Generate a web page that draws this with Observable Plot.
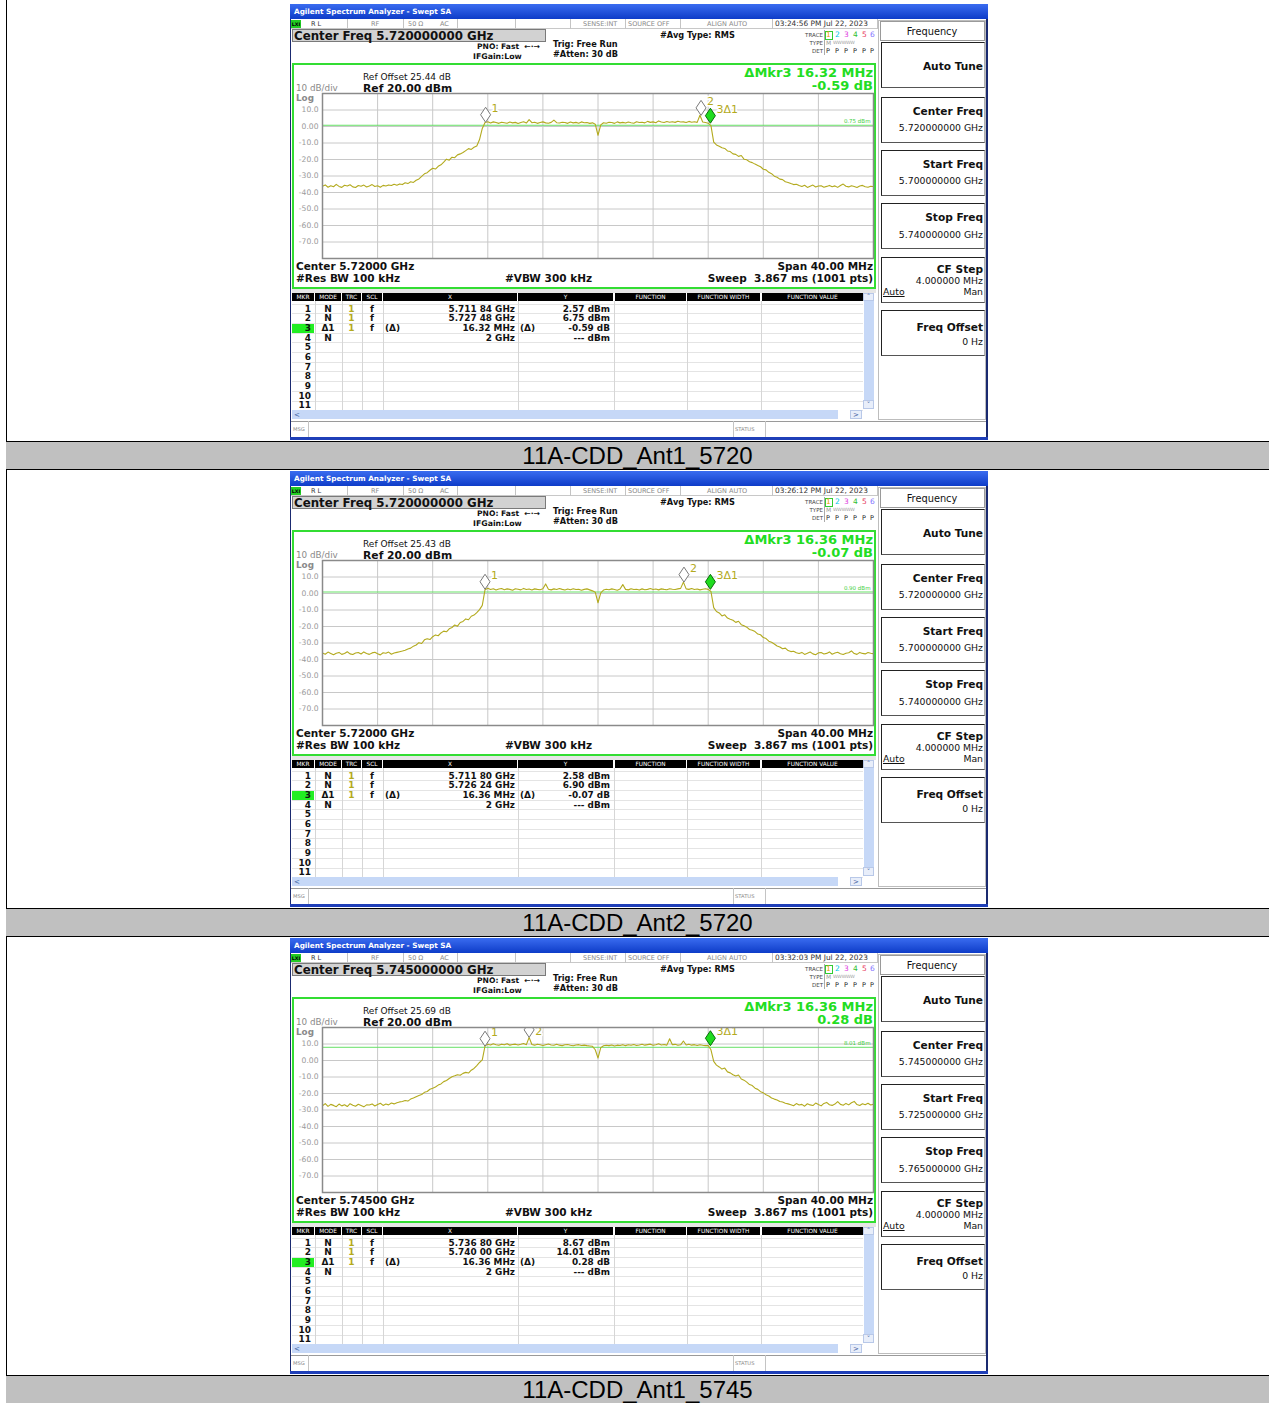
<!DOCTYPE html>
<html><head><meta charset="utf-8">
<script src="https://cdn.jsdelivr.net/npm/d3@7"></script>
<script src="https://cdn.jsdelivr.net/npm/@observablehq/plot@0.6"></script>
<style>
html,body{margin:0;padding:0;background:#fff;}
#page{position:relative;width:1269px;height:1403px;overflow:hidden;background:#fff;}
.sa{position:absolute;left:290px;width:698px;height:436px;background:#fff;overflow:hidden;font-family:"DejaVu Sans",sans-serif;color:#111;}
.t{position:absolute;white-space:pre;}
.bx{position:absolute;box-sizing:border-box;}
.cap{position:absolute;left:6px;width:1263px;height:29px;background:#c0c0c0;border-top:1px solid #000;border-bottom:1px solid #000;box-sizing:border-box;text-align:center;font-family:"Liberation Sans",Arial,sans-serif;font-size:24px;line-height:27px;color:#000;}
</style></head>
<body><div id="page"></div>
<script>
// ---------- data ----------
const captions = ["11A-CDD_Ant1_5720", "11A-CDD_Ant2_5720", "11A-CDD_Ant1_5745"];
const centerGHz = [5.72, 5.72, 5.745];
const centerFreqText = ["5.720000000", "5.720000000", "5.745000000"];
const startFreqText = ["5.700000000", "5.700000000", "5.725000000"];
const stopFreqText = ["5.740000000", "5.740000000", "5.765000000"];
const centerShort = ["5.72000", "5.72000", "5.74500"];
const spanMHz = 40;
const timestamps = ["03:24:56 PM Jul 22, 2023", "03:26:12 PM Jul 22, 2023", "03:32:03 PM Jul 22, 2023"];
const refOffsets = ["25.44", "25.43", "25.69"];
const deltaFreq = ["16.32 MHz", "16.36 MHz", "16.36 MHz"];
const deltaAmp = ["-0.59 dB", "-0.07 dB", "0.28 dB"];
const displayLine = [0.75, 0.90, 8.01];
const yTicks = [10, 0, -10, -20, -30, -40, -50, -60, -70];
const mkrLabels = ["1", "2", "3Δ1"];
const mkrFreq = [[5.71184, 5.72748, 5.72816], [5.71180, 5.72624, 5.72816], [5.73680, 5.74000, 5.75316]];
const mkrAmp = [[2.57, 6.75, 1.98], [2.58, 6.90, 2.51], [8.67, 14.01, 8.95]];
const mkrXText = [["5.711 84 GHz", "5.727 48 GHz", "16.32 MHz", "2 GHz"],
                  ["5.711 80 GHz", "5.726 24 GHz", "16.36 MHz", "2 GHz"],
                  ["5.736 80 GHz", "5.740 00 GHz", "16.36 MHz", "2 GHz"]];
const mkrYText = [["2.57 dBm", "6.75 dBm", "-0.59 dB", "--- dBm"],
                  ["2.58 dBm", "6.90 dBm", "-0.07 dB", "--- dBm"],
                  ["8.67 dBm", "14.01 dBm", "0.28 dB", "--- dBm"]];
const mkrMode = ["N", "N", "Δ1", "N"];
const mkrTrc = ["1", "1", "1", ""];
const mkrScl = ["f", "f", "f", ""];

const trace1 = [-36.2,-35.4,-36.8,-35.9,-36.5,-35.1,-36.3,-36.9,-35.6,-36.1,-35.3,-36.6,-37.0,-35.8,-36.2,-35.5,-36.7,-36.0,-35.2,-36.4,-35.9,-36.8,-35.7,-36.1,-35.4,
-35.8,-35.0,-35.6,-34.8,-35.2,-34.1,-34.6,-33.5,-33.9,-32.6,-31.8,
-30.2,-28.7,-28.0,-26.5,-25.3,-25.8,-24.1,-23.2,-21.6,-19.8,-20.4,-18.6,-18.9,-17.2,-16.6,-15.8,-14.6,-13.4,-13.9,-12.6,-11.8,-7.9,-1.2,2.4,2.9,
2.1,2.8,2.4,1.9,2.6,2.3,2.0,2.7,2.2,2.5,1.8,2.4,2.9,2.1,4.2,2.3,2.6,1.9,2.4,2.8,2.2,2.0,2.5,3.9,2.3,2.1,2.6,2.4,1.9,2.7,2.2,2.5,2.0,2.8,2.3,2.4,1.9,2.2,
1.4,-5.3,1.0,
2.3,2.0,2.6,2.4,1.9,2.8,2.2,2.5,2.1,2.7,2.3,2.0,2.9,2.4,2.6,2.2,3.1,2.5,2.8,2.3,3.4,2.7,2.4,3.0,2.6,2.9,2.5,3.2,2.7,2.8,2.4,3.1,2.6,2.9,2.5,
6.8,
2.7,2.4,2.0,0.5,-9.5,-11.2,-12.0,-12.9,-13.3,-14.8,-15.2,-16.6,-16.9,-18.1,-17.6,-19.8,-20.2,-21.4,-21.9,-22.8,-23.6,-24.4,-25.9,-26.3,-27.8,-28.6,-30.1,-30.8,-31.9,-32.2,-33.5,-33.9,-34.6,-35.2,-35.0,
-35.8,-36.4,-35.6,-36.9,-36.2,-35.5,-36.7,-36.1,-35.9,-36.8,-36.3,-35.7,-36.5,-36.0,-36.9,-35.8,-34.9,-36.2,-36.6,-35.9,-36.4,-37.0,-36.1,-35.7,-36.5,-36.8,-36.2,-36.4];

const trace2 = [-36.0,-36.8,-35.5,-36.3,-37.1,-36.2,-35.7,-36.9,-36.4,-35.3,-36.6,-37.0,-36.1,-35.8,-36.7,-35.4,-36.3,-36.9,-36.0,-35.6,-36.5,-37.2,-35.9,-36.2,-35.5,-36.8,-36.1,-35.7,-35.3,
-34.9,-34.4,-33.6,-33.1,-31.9,-31.2,-29.8,-30.3,-28.1,-27.4,-27.9,-26.2,-25.1,-25.6,-23.9,-22.8,-23.2,-21.4,-20.6,-19.1,-19.8,-17.6,-16.9,-15.4,-15.9,-13.8,-13.1,-11.6,-9.8,-7.2,2.3,
3.2,2.4,2.9,2.1,2.7,3.0,2.3,2.8,2.5,2.0,2.9,2.6,2.2,3.1,2.4,2.7,2.1,2.8,2.5,2.3,2.9,5.8,2.6,2.2,2.8,2.4,3.0,2.5,2.1,2.7,2.3,2.9,2.4,2.6,2.0,2.5,2.8,2.2,1.6,
0.8,-5.6,0.4,
2.1,2.6,2.3,2.8,2.4,2.0,2.7,5.4,2.5,2.2,2.9,2.4,2.6,2.1,2.8,2.3,2.5,3.0,2.4,2.7,2.2,2.8,2.5,2.3,2.9,2.6,2.4,2.8,3.1,
6.9,
2.8,2.5,3.0,2.4,2.7,2.2,2.6,2.9,2.5,
1.2,-8.6,-10.9,-11.8,-13.6,-12.9,-14.9,-15.6,-16.2,-17.5,-16.8,-18.9,-19.6,-20.4,-21.8,-22.3,-23.1,-24.6,-25.0,-26.7,-27.3,-28.9,-29.5,-30.6,-31.8,-32.4,-33.5,-33.1,-34.6,-35.2,-35.0,-35.9,
-36.4,-35.7,-36.9,-36.2,-35.5,-36.6,-37.1,-36.0,-35.8,-36.7,-36.3,-35.4,-36.8,-36.1,-35.6,-36.5,-37.0,-36.2,-35.9,-34.8,-36.4,-36.9,-35.7,-36.3,-36.6,-35.8,-36.2,-36.5];

const trace3 = [-27.4,-26.1,-27.8,-26.6,-27.2,-28.0,-26.4,-27.5,-26.8,-27.9,-26.2,-27.1,-27.7,-26.5,-27.3,-28.1,-26.9,-27.0,-26.3,-27.6,-26.7,-25.9,-27.2,-26.4,-26.9,-25.8,-26.3,-25.6,
-25.1,-24.8,-24.2,-24.6,-23.4,-22.7,-21.9,-21.2,-20.6,-19.3,-18.8,-17.4,-16.8,-16.1,-14.9,-14.2,-12.8,-12.1,-10.9,-9.8,-9.3,-8.6,-8.9,-7.8,-7.2,-7.6,-5.9,-4.8,-3.1,-1.2,0.4,8.9,
9.8,9.4,10.1,9.6,9.2,9.9,9.5,10.2,9.3,9.7,9.9,9.4,9.8,10.3,9.6,
14.0,
9.7,9.3,9.9,9.5,9.1,9.6,10.0,9.4,9.2,9.8,9.3,9.0,9.5,9.7,9.2,8.9,9.4,9.6,9.1,9.3,9.0,8.8,8.6,
6.5,1.5,7.8,
8.9,9.2,9.0,9.4,8.8,9.3,9.1,9.6,9.0,9.5,9.2,9.7,9.1,9.4,9.8,9.3,9.6,9.9,9.2,9.5,10.1,9.4,9.7,9.3,13.2,9.6,9.8,9.2,9.5,11.8,9.4,9.9,9.3,9.6,9.1,9.5,9.2,9.0,
9.1,6.5,-0.5,-2.8,-3.9,-5.2,-4.6,-6.9,-7.5,-8.6,-9.4,-8.8,-11.2,-11.9,-13.1,-14.6,-15.2,-16.8,-17.5,-18.9,-19.6,-20.8,-21.5,-22.7,-23.4,-23.9,-24.8,-25.2,-25.9,-26.3,
-26.8,-27.4,-26.1,-27.0,-26.6,-27.7,-26.2,-26.9,-27.3,-25.8,-26.7,-27.5,-26.0,-25.4,-26.8,-27.2,-26.4,-24.9,-26.6,-27.1,-26.0,-26.9,-25.6,-24.8,-26.7,-27.3,-26.2,-26.8,-25.9,-27.0,-26.5];

const traces = [trace1, trace2, trace3];
const panelTops = [4, 471, 938];
const captionTops = [441, 908, 1375];

// ---------- helpers ----------
const SW = 698;
function T(p, x, cy, s, o = {}) {
  const d = document.createElement("div");
  d.className = "t";
  const fs = o.fs || 9;
  const lh = Math.ceil(fs * (o.lh || 1.3));
  d.style.top = (cy - lh / 2) + "px";
  d.style.height = lh + "px";
  d.style.lineHeight = lh + "px";
  d.style.fontSize = fs + "px";
  if (o.align === "r") d.style.right = (SW - x) + "px";
  else if (o.align === "c") { d.style.left = (x - 70) + "px"; d.style.width = "140px"; d.style.textAlign = "center"; }
  else d.style.left = x + "px";
  if (o.bold) d.style.fontWeight = "bold";
  if (o.color) d.style.color = o.color;
  if (o.css) d.style.cssText += o.css;
  d.textContent = s;
  p.appendChild(d);
  return d;
}
function B(p, x, y, w, h, css) {
  const d = document.createElement("div");
  d.className = "bx";
  d.style.cssText += `left:${x}px;top:${y}px;width:${w}px;height:${h}px;` + (css || "");
  p.appendChild(d);
  return d;
}

const tallDiamond = {draw(ctx) { ctx.moveTo(0, 0); ctx.lineTo(5, -7.5); ctx.lineTo(0, -15); ctx.lineTo(-5, -7.5); ctx.closePath(); }};

function chart(k) {
  const half = spanMHz / 2000;
  const f0 = centerGHz[k] - half, f1 = centerGHz[k] + half;
  const tr = traces[k];
  const pts = tr.map((v, i) => ({f: f0 + i * (f1 - f0) / (tr.length - 1), v}));
  const mk = mkrFreq[k].map((f, i) => ({f, v: mkrAmp[k][i], label: mkrLabels[i], active: i === 2}));
  const xGrid = d3.range(1, 10).map(j => f0 + j * (f1 - f0) / 10);
  const olive = "#b3aa1e";
  return Plot.plot({
    width: 586, height: 178,
    marginLeft: 32, marginRight: 3, marginTop: 10, marginBottom: 3,
    x: {domain: [f0, f1], axis: null},
    y: {domain: [-80, 20], ticks: yTicks, tickFormat: d => d === 0 ? "0.00" : d.toFixed(1), tickSize: 0, tickPadding: 4, label: null},
    style: {background: "transparent", color: "#9a9a9a", fontFamily: "DejaVu Sans, sans-serif", fontSize: "7.6px", overflow: "visible"},
    marks: [
      Plot.frame({fill: "white"}),
      Plot.ruleY(yTicks, {stroke: "#c8c8c8", strokeWidth: 1}),
      Plot.ruleX(xGrid, {stroke: "#c8c8c8", strokeWidth: 1}),
      Plot.ruleY([displayLine[k]], {stroke: "#66e066", strokeWidth: 1}),
      Plot.text([displayLine[k]], {x: () => f1, y: d => d, text: d => d.toFixed(2) + " dBm", textAnchor: "end", dx: -3, dy: -4, fontSize: 5.5, fill: "#3fcf3f"}),
      Plot.line(pts, {x: "f", y: "v", stroke: olive, strokeWidth: 1.1, clip: true}),
      Plot.text(mk, {x: "f", y: d => Math.min(d.v + 8.5, 17.3), text: "label", dx: 6, textAnchor: "start", fill: olive, stroke: "white", strokeWidth: 3, paintOrder: "stroke", fontSize: 11, fontFamily: "DejaVu Sans"}),
      Plot.dot(mk.filter(d => !d.active), {x: "f", y: "v", symbol: tallDiamond, fill: "white", stroke: "#7a7a7a", strokeWidth: 1, clip: true}),
      Plot.dot(mk.filter(d => d.active), {x: "f", y: "v", symbol: tallDiamond, fill: "#1fdc1f", stroke: "#0b6e0b", strokeWidth: 1, clip: true}),
      Plot.frame({stroke: "#8a8a8a", strokeWidth: 1.5})
    ]
  });
}

function panel(k) {
  const page = document.getElementById("page");
  const p = document.createElement("div");
  p.className = "sa";
  p.style.top = panelTops[k] + "px";
  page.appendChild(p);

  // outer edges
  B(p, 0, 0, 1, 436, "background:#1a2a70;");
  B(p, 696, 0, 2, 436, "background:#1a2a70;");
  B(p, 0, 433, 698, 3, "background:#1f3fb8;");
  // title bar
  B(p, 0, 0, 698, 15, "background:linear-gradient(#3a6cf0,#0e3cc8);");
  T(p, 4, 7.5, "Agilent Spectrum Analyzer - Swept SA", {fs: 7.3, bold: true, color: "#fff"});
  // status row
  B(p, 1, 15, 695, 10, "background:#fff;border-bottom:1px solid #c8c8c8;");
  B(p, 1, 16, 10, 8, "background:#22cc22;");
  T(p, 6, 20, "LXI", {fs: 4.8, bold: true, align: "c", css: "color:#000;"});
  [57, 113, 167, 225, 280, 335, 390, 482, 587].forEach(x => B(p, x, 15, 1, 10, "background:#c4c4c4;"));
  T(p, 21, 20, "R L", {fs: 6.5, color: "#333"});
  T(p, 81, 20, "RF", {fs: 6.5, color: "#8a8a8a"});
  T(p, 118, 20, "50 Ω", {fs: 6.5, color: "#8a8a8a"});
  T(p, 150, 20, "AC", {fs: 6.5, color: "#8a8a8a"});
  T(p, 293, 20, "SENSE:INT", {fs: 6.5, color: "#8a8a8a"});
  T(p, 338, 20, "SOURCE OFF", {fs: 6.5, color: "#8a8a8a"});
  T(p, 417, 20, "ALIGN AUTO", {fs: 6.5, color: "#8a8a8a"});
  T(p, 485, 20, timestamps[k], {fs: 7.4, color: "#333"});

  // header
  B(p, 2, 25, 254, 13, "background:#d2d2d2;border:1px solid #7a7a7a;");
  T(p, 4, 31.5, "Center Freq " + centerFreqText[k] + " GHz", {fs: 11.8, bold: true});
  T(p, 187, 43, "PNO: Fast  ←·→", {fs: 7.6, bold: true});
  T(p, 183, 52, "IFGain:Low", {fs: 7.8, bold: true});
  T(p, 263, 40, "Trig: Free Run", {fs: 8.2, bold: true});
  T(p, 263, 50, "#Atten: 30 dB", {fs: 8.2, bold: true});
  T(p, 370, 31, "#Avg Type: RMS", {fs: 8.2, bold: true});
  T(p, 533, 31, "TRACE", {fs: 5.5, align: "r", color: "#444"});
  T(p, 533, 39, "TYPE", {fs: 5.5, align: "r", color: "#444"});
  T(p, 533, 47, "DET", {fs: 5.5, align: "r", color: "#444"});
  B(p, 534, 26, 52, 25, "border-left:1px solid #aaa;");
  B(p, 534.5, 26.5, 8, 9, "border:1px solid #33cc33;");
  const trX = [536, 545, 554, 563, 572, 580];
  const trC = ["#e8a000", "#00c8e8", "#e040e0", "#30c030", "#e84060", "#7f6fff"];
  trX.forEach((x, i) => T(p, x, 31, String(i + 1), {fs: 7.5, color: trC[i]}));
  T(p, 536, 39, "M", {fs: 6, color: "#9a9a9a"});
  T(p, 543, 39, "WWWWW", {fs: 4.6, color: "#a0a0a0", css: "letter-spacing:-0.2px;"});
  trX.forEach(x => T(p, x, 47, "P", {fs: 6.5, color: "#222"}));

  // green frame + chart
  B(p, 2, 59, 584, 226, "border:2px solid #33dd33;");
  T(p, 6, 84.3, "10 dB/div", {fs: 8.8, lh: 1.0, color: "#8a8a8a"});
  T(p, 6, 94, "Log", {fs: 8.8, lh: 1.0, color: "#8a8a8a", bold: true});
  T(p, 73, 73, "Ref Offset " + refOffsets[k] + " dB", {fs: 9});
  T(p, 73, 84, "Ref 20.00 dBm", {fs: 10.8, bold: true});
  T(p, 583, 68, "ΔMkr3 " + deltaFreq[k], {fs: 13, bold: true, align: "r", color: "#22dd22"});
  T(p, 583, 81, deltaAmp[k], {fs: 13, bold: true, align: "r", color: "#22dd22"});
  const holder = document.createElement("div");
  holder.style.cssText = "position:absolute;left:0px;top:79px;";
  holder.appendChild(chart(k));
  p.appendChild(holder);
  T(p, 6, 262, "Center " + centerShort[k] + " GHz", {fs: 10.5, bold: true});
  T(p, 6, 274, "#Res BW 100 kHz", {fs: 10.5, bold: true});
  T(p, 215, 274, "#VBW 300 kHz", {fs: 10.5, bold: true});
  T(p, 583, 262, "Span 40.00 MHz", {fs: 10.5, bold: true, align: "r"});
  T(p, 583, 274, "Sweep  3.867 ms (1001 pts)", {fs: 10.5, bold: true, align: "r"});

  // softkeys
  B(p, 588, 16, 108, 400, "border:1px solid #bdbdbd;background:#fff;");
  B(p, 590, 17, 105, 20, "border:1px solid #9a9a9a;background:#fff;");
  T(p, 642, 27, "Frequency", {fs: 9.8, align: "c"});
  const keyTops = [38, 92.7, 146, 199, 252.7, 306];
  keyTops.forEach(y => B(p, 591, y, 104, 46, "border-top:1.5px solid #222;border-left:1.5px solid #222;border-right:1px solid #b0b0b0;border-bottom:1px solid #555;background:#fff;"));
  T(p, 693, 61.7, "Auto Tune", {fs: 10.6, bold: true, align: "r"});
  T(p, 693, 106.7, "Center Freq", {fs: 10.6, bold: true, align: "r"});
  T(p, 693, 123.3, centerFreqText[k] + " GHz", {fs: 9.3, align: "r"});
  T(p, 693, 160, "Start Freq", {fs: 10.6, bold: true, align: "r"});
  T(p, 693, 176.7, startFreqText[k] + " GHz", {fs: 9.3, align: "r"});
  T(p, 693, 213, "Stop Freq", {fs: 10.6, bold: true, align: "r"});
  T(p, 693, 230.7, stopFreqText[k] + " GHz", {fs: 9.3, align: "r"});
  T(p, 693, 265, "CF Step", {fs: 10.6, bold: true, align: "r"});
  T(p, 693, 276, "4.000000 MHz", {fs: 9.3, align: "r"});
  T(p, 593, 287.3, "Auto", {fs: 9.3, css: "text-decoration:underline;"});
  T(p, 693, 287.3, "Man", {fs: 9.3, align: "r"});
  T(p, 693, 323.3, "Freq Offset", {fs: 10.6, bold: true, align: "r"});
  T(p, 693, 337.3, "0 Hz", {fs: 9.3, align: "r"});

  // marker table
  B(p, 2, 285, 584, 4, "background:#e6e6e6;");
  B(p, 2, 289, 584, 127, "background:#fff;");
  const cols = [[2, 24, "MKR"], [25, 51, "MODE"], [52, 71, "TRC"], [72, 92, "SCL"], [93, 227, "X"], [228, 323, "Y"], [325, 396, "FUNCTION"], [397, 470, "FUNCTION WIDTH"], [472, 573, "FUNCTION VALUE"]];
  cols.forEach(([a, b, s]) => {
    B(p, a, 289, b - a, 8, "background:#000;");
    T(p, (a + b) / 2, 293, s, {fs: 5.8, align: "c", color: "#fff"});
  });
  for (let r = 0; r <= 11; r++) B(p, 2, 299.8 + 9.67 * r, 571, 1, "background:#e4e4e4;");
  [24.5, 51.5, 71.5, 92.5, 227.5, 323.5, 396.5, 470.5].forEach(x => B(p, x, 297, 1, 109, "background:#d6d6d6;"));
  B(p, 2, 319.8, 22, 9.6, "background:#22ee22;");
  for (let r = 0; r < 11; r++) {
    const cy = 304.7 + 9.67 * r;
    T(p, 21, cy, String(r + 1), {fs: 9, bold: true, align: "r", lh: 1.05});
    if (r < 4) {
      T(p, 38, cy, mkrMode[r], {fs: 9, bold: true, align: "c", lh: 1.05});
      if (mkrTrc[r]) T(p, 61.5, cy, mkrTrc[r], {fs: 9, bold: true, align: "c", color: "#b3aa1e", lh: 1.05});
      if (mkrScl[r]) T(p, 82, cy, mkrScl[r], {fs: 9, bold: true, align: "c", lh: 1.05});
      if (r === 2) { T(p, 95, cy, "(Δ)", {fs: 9, bold: true, lh: 1.05}); T(p, 230, cy, "(Δ)", {fs: 9, bold: true, lh: 1.05}); }
      T(p, 225, cy, mkrXText[k][r], {fs: 8.9, bold: true, align: "r", lh: 1.05});
      T(p, 320, cy, mkrYText[k][r], {fs: 8.9, bold: true, align: "r", lh: 1.05});
    }
  }
  // scrollbars
  B(p, 573, 289, 11, 8, "background:#e8eefa;border:1px solid #b8c8e8;");
  T(p, 578.5, 293, "˄", {fs: 7, align: "c", color: "#4060a0"});
  B(p, 574, 297, 10, 99, "background:#c6d8f7;");
  B(p, 573, 396, 11, 9, "background:#e8eefa;border:1px solid #b8c8e8;");
  T(p, 578.5, 400.5, "˅", {fs: 7, align: "c", color: "#4060a0"});
  B(p, 2, 406, 546, 9, "background:#c6d8f7;");
  T(p, 4, 410.5, "<", {fs: 7, color: "#4060a0"});
  B(p, 548, 406, 12, 9, "background:#fff;");
  B(p, 560, 406, 12, 9, "background:#e8eefa;border:1px solid #b8c8e8;");
  T(p, 566, 410.5, ">", {fs: 7, align: "c", color: "#4060a0"});

  // message row
  B(p, 1, 417, 695, 16, "background:#fff;border-top:1px solid #9a9a9a;");
  B(p, 18, 417, 1, 16, "background:#c4c4c4;");
  B(p, 443, 417, 1, 16, "background:#c4c4c4;");
  B(p, 475, 417, 1, 16, "background:#c4c4c4;");
  T(p, 3, 425, "MSG", {fs: 5.2, color: "#888"});
  T(p, 445, 425, "STATUS", {fs: 5.2, color: "#888"});
}

// ---------- page ----------
const page = document.getElementById("page");
B(page, 6, 0, 1, 1403, "background:#000;");
for (let k = 0; k < 3; k++) {
  panel(k);
  const c = document.createElement("div");
  c.className = "cap";
  c.style.top = captionTops[k] + "px";
  c.textContent = captions[k];
  page.appendChild(c);
}
</script></body></html>
